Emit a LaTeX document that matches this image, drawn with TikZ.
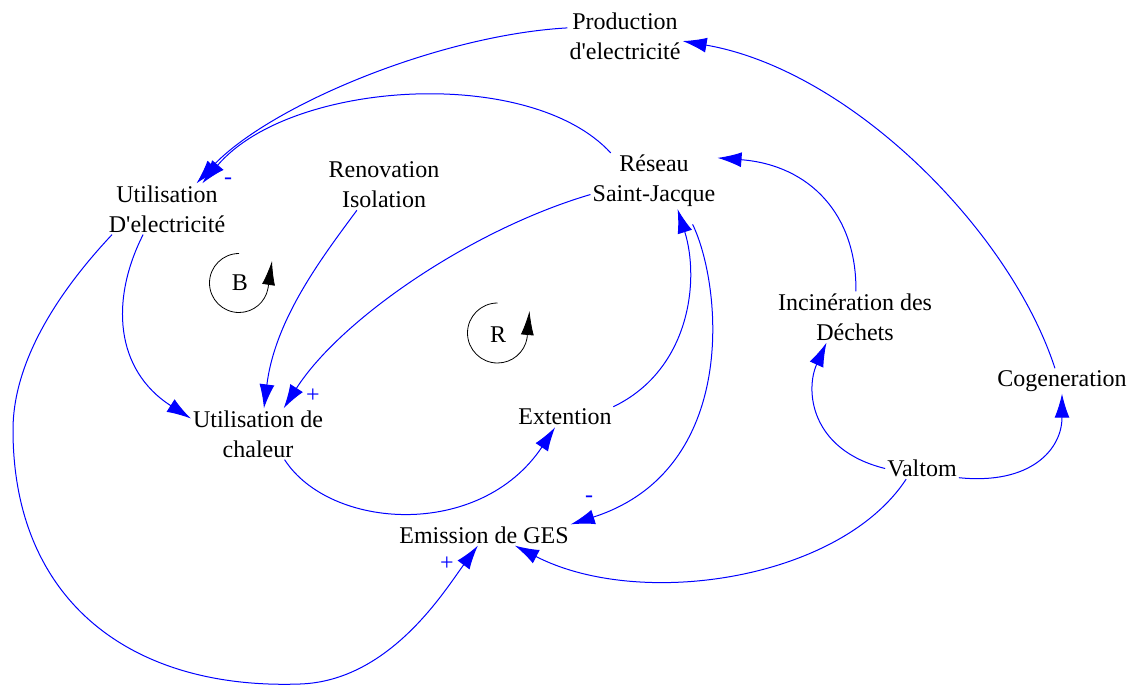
\documentclass[tikz,border=0pt]{standalone}
\usepackage{fontspec}
\setmainfont{Liberation Serif}[Ligatures=TeXOff]
\usetikzlibrary{arrows.meta}
\definecolor{vblue}{RGB}{0,0,255}
\begin{document}
\begin{tikzpicture}[x=1pt,y=-1pt,
  var/.style={font=\fontsize{24}{30}\selectfont, align=center, inner sep=2pt, text=black},
  link/.style={draw=vblue, line width=1pt, -{Latex[length=24pt,width=15pt]}},
  sgn/.style={font=\fontsize{24}{30}\selectfont, text=vblue, inner sep=0pt},
  loopline/.style={draw=black, line width=0.8pt, -{Latex[length=24pt,width=13pt]}},
  looplbl/.style={font=\fontsize{24}{30}\selectfont, inner sep=0pt}]
\useasboundingbox (0,0) rectangle (1132,686);
\fill[white] (0,0) rectangle (1132,686);

\node[var] (prod) at (625,36) {Production\\d'electricité};
\node[var] (uel) at (167,209) {Utilisation\\D'electricité};
\node[var] (reno) at (384,185) {Renovation\\Isolation};
\node[var] (res) at (654,181) {Réseau\\Saint-Jacque};
\node[var] (inc) at (855,317) {Incinération des\\Déchets};
\node[var] (cog) at (1062,381) {Cogeneration};
\node[var] (val) at (922,468.5) {Valtom};
\node[var] (uch) at (258,434) {Utilisation de\\chaleur};
\node[var] (ext) at (565,417) {Extention};
\node[var] (ges) at (484,535) {Emission de GES};

\draw[link] (cog.119) .. controls (1010,230) and (850,70) .. (prod.-5);
\draw[link] (prod.172) .. controls (440,35) and (270,105) .. (uel.41);
\draw[link] (res.147) .. controls (530,65) and (290,80) .. (uel.36);
\draw[link] (res.-168) .. controls (470,230) and (340,320) .. (uch.45);
\draw[link] (reno.-137) .. controls (320,260) and (275,320) .. (uch.77);
\draw[link] (uel.-133) .. controls (110,300) and (115,370) .. (uch.167);
\draw[link] (uel.-155) .. controls (60,290) and (13,360) .. (13,430)
  .. controls (13,600) and (130,690) .. (300,684)
  .. controls (390,681) and (445,590) .. (ges.-120);
\draw[link] (uch.-44) .. controls (330,530) and (480,540) .. (ext.-134);
\draw[link] (ext.12) .. controls (690,370) and (700,280) .. (res.-50);
\draw[link, shorten <=17pt] (res.-42) .. controls (722,285) and (740,470) .. (ges.7);
\draw[link] (inc.88) .. controls (857,215) and (810,165) .. (res.20);
\draw[link] (val.180) .. controls (810,450) and (805,390) .. (inc.-138);
\draw[link] (val.-14) .. controls (1030,485) and (1062,450) .. (cog.-90);
\draw[link] (val.-146) .. controls (840,580) and (640,610) .. (ges.-19);

\node[sgn] (s1) at (228,181) {-};
\node[sgn] (s2) at (313,396) {+};
\node[sgn] (s3) at (447,564) {+};
\node[sgn] (s4) at (589,499) {-};

\draw[loopline] (239,253.5) arc[start angle=-90, end angle=-350, radius=29.5] -- (272,261);
\node[looplbl] (lb) at (240,283) {B};
\draw[loopline] (497.5,303) arc[start angle=-90, end angle=-350, radius=30] -- (529.5,311);
\node[looplbl] (lr) at (498,335) {R};
\end{tikzpicture}
\end{document}
